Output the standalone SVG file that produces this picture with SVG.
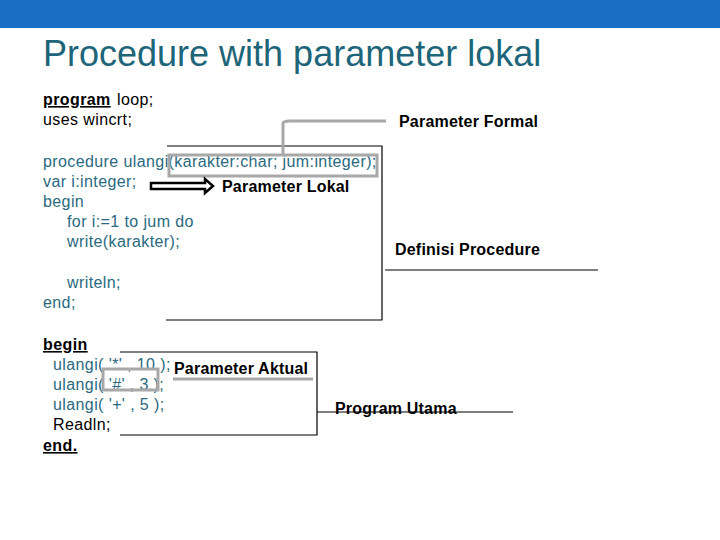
<svg xmlns="http://www.w3.org/2000/svg" width="720" height="540" viewBox="0 0 720 540">
<style>
.code{font-family:"Liberation Sans",Arial,sans-serif;font-size:16px;letter-spacing:0.4px;fill:#2a6a80}
.blk{font-family:"Liberation Sans",Arial,sans-serif;font-size:16px;letter-spacing:0.4px;fill:#000}
.lbl{font-family:"Liberation Sans",Arial,sans-serif;font-size:16px;font-weight:bold;letter-spacing:0.2px;fill:#000}
.ln{stroke:#000;stroke-width:1.2;fill:none}
.gr{stroke:#a8a8a8;stroke-width:3;fill:none}
</style>
<rect x="0" y="0" width="720" height="540" fill="#fff"/>
<rect x="0" y="0" width="720" height="28" fill="#1a6fc4"/>
<text x="43" y="66" font-family="Liberation Sans,Arial,sans-serif" font-size="36" fill="#1d6578">Procedure with parameter lokal</text>
<g id="code">
<text x="43" y="105" class="blk" font-weight="bold" text-decoration="underline">program</text><text x="117" y="105" class="blk">loop;</text>
<text x="43" y="125" class="blk">uses wincrt;</text>
<text x="43" y="167" class="code">procedure ulangi(karakter:char; jum:integer);</text>
<text x="43" y="187" class="code">var i:integer;</text>
<text x="43" y="207" class="code">begin</text>
<text x="67" y="227" class="code">for i:=1 to jum do</text>
<text x="67" y="247" class="code">write(karakter);</text>
<text x="67" y="288" class="code">writeln;</text>
<text x="43" y="308" class="code">end;</text>
<text x="43" y="350" class="blk" font-weight="bold" text-decoration="underline">begin</text>
<text x="53" y="370" class="code">ulangi( '*' , 10 );</text>
<text x="53" y="390" class="code">ulangi( '#' , 3 );</text>
<text x="53" y="410" class="code">ulangi( '+' , 5 );</text>
<text x="53" y="430" class="blk">Readln;</text>
<text x="43" y="451" class="blk" font-weight="bold" text-decoration="underline">end.</text>
</g>
<g id="connectors">
<path class="ln" d="M167 146 H382 V320 H166"/>
<path class="gr" d="M169 155 H377 V176 H169 Z"/>
<path class="gr" d="M283 154 V123 Q283 121 290 121 H386"/>
<path class="ln" d="M385 270 H598"/>
<path class="ln" d="M120 352 H317 V435 H120"/>
<path class="ln" d="M317 412 H513"/>
<path class="gr" d="M103 369 H158 V390 H103 Z"/>
<path class="gr" d="M173 379 H313"/>
<path d="M151 183 H205 V179 L213 186 L205 193 V189 H151 Z" fill="#fff" stroke="#000" stroke-width="2.5"/>
</g>
<g id="labels">
<text x="399" y="127" class="lbl">Parameter Formal</text>
<text x="222" y="192" class="lbl">Parameter Lokal</text>
<text x="395" y="255" class="lbl">Definisi Procedure</text>
<text x="174" y="374" class="lbl">Parameter Aktual</text>
<text x="335" y="414" class="lbl">Program Utama</text>
</g>
</svg>
